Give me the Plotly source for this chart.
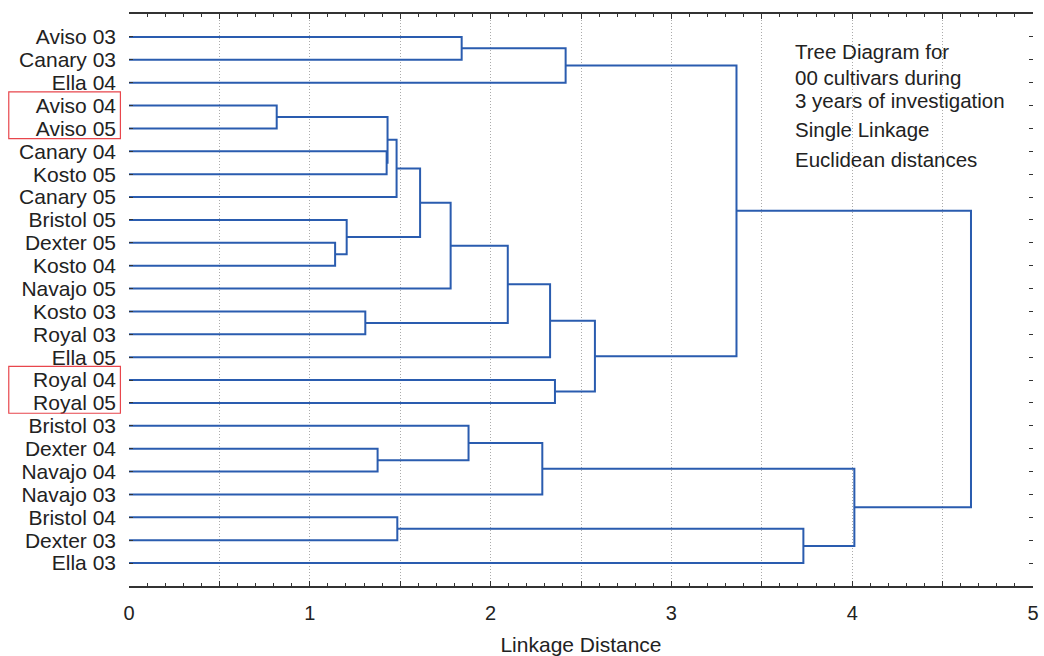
import plotly.graph_objects as go

# ---------------- data ----------------
leaf_labels = [
    "Aviso 03", "Canary 03", "Ella 04", "Aviso 04", "Aviso 05", "Canary 04",
    "Kosto 05", "Canary 05", "Bristol 05", "Dexter 05", "Kosto 04", "Navajo 05",
    "Kosto 03", "Royal 03", "Ella 05", "Royal 04", "Royal 05", "Bristol 03",
    "Dexter 04", "Navajo 04", "Navajo 03", "Bristol 04", "Dexter 03", "Ella 03",
]
# merges: new cluster id = len(leaf_labels) + merge index
merge_left = [3, 9, 8, 12, 18, 5, 24, 30, 21, 31, 33, 0, 17, 34, 36, 37, 15, 35, 39, 41, 32, 38, 43]
merge_right = [4, 10, 25, 13, 19, 6, 29, 7, 22, 26, 11, 1, 28, 27, 20, 14, 16, 2, 40, 42, 23, 44, 45]
merge_height = [0.817, 1.14, 1.204, 1.307, 1.375, 1.425, 1.43, 1.48, 1.484, 1.61, 1.779,
                1.84, 1.878, 2.095, 2.286, 2.329, 2.356, 2.415, 2.577, 3.36, 3.73, 4.012, 4.657]

x_tick_vals = [0, 0.5, 1, 1.5, 2, 2.5, 3, 3.5, 4, 4.5, 5]
x_tick_text = ["0", "", "1", "", "2", "", "3", "", "4", "", "5"]

highlight_groups = [["Aviso 04", "Aviso 05"], ["Royal 04", "Royal 05"]]

note_lines = ["Tree Diagram for", "00 cultivars during", "3 years of investigation",
              "Single Linkage", "Euclidean distances"]
note_y = [0.9337, 0.889, 0.8487, 0.7976, 0.7452]

# ---------------- build dendrogram links ----------------
n = len(leaf_labels)
pos_y = {i: i + 1 for i in range(n)}
pos_x = {i: 0.0 for i in range(n)}
xs, ys = [], []
for k, (a, b, h) in enumerate(zip(merge_left, merge_right, merge_height)):
    xs += [pos_x[a], h, h, pos_x[b], None]
    ys += [pos_y[a], pos_y[a], pos_y[b], pos_y[b], None]
    pos_x[n + k] = h
    pos_y[n + k] = (pos_y[a] + pos_y[b]) / 2

FONT = "Liberation Sans, Arial, Helvetica, sans-serif"
TXT = "#222222"

fig = go.Figure()
fig.add_trace(go.Scatter(
    x=xs, y=ys, mode="lines",
    line=dict(color="#2a5caf", width=2),
    hoverinfo="skip", showlegend=False,
))

shapes = []
for grp in highlight_groups:
    idx = [leaf_labels.index(g) + 1 for g in grp]
    shapes.append(dict(
        type="rect", xref="paper", yref="y",
        x0=-0.133, x1=-0.0095, y0=min(idx) - 0.6, y1=max(idx) + 0.45,
        line=dict(color="#e8464c", width=1.2), fillcolor="rgba(0,0,0,0)",
        layer="above",
    ))

annotations = []
for txt, yy in zip(note_lines, note_y):
    annotations.append(dict(
        text=txt, xref="paper", yref="paper", x=0.735, y=yy,
        xanchor="left", yanchor="middle", showarrow=False,
        font=dict(family=FONT, size=20.5, color=TXT),
    ))

fig.update_layout(
    template="none",
    width=1044, height=656,
    margin=dict(l=129, r=11, t=14, b=70, autoexpand=False),
    paper_bgcolor="white", plot_bgcolor="white",
    font=dict(family=FONT, color=TXT),
    shapes=shapes, annotations=annotations,
    xaxis=dict(
        range=[0, 5], tickvals=x_tick_vals, ticktext=x_tick_text,
        ticks="inside", ticklen=5, tickwidth=1, tickcolor="#333",
        showline=True, linecolor="#333", linewidth=1.5, mirror="ticks",
        showgrid=True, gridcolor="#ababab", griddash="1px,2px", gridwidth=1,
        zeroline=False, automargin=False,
        minor=dict(dtick=0.1, ticks="inside", ticklen=3, tickcolor="#333", showgrid=False),
        tickfont=dict(family=FONT, size=20, color=TXT),
        ticklabelstandoff=8,
        title=dict(text="Linkage Distance", font=dict(family=FONT, size=21, color=TXT), standoff=15),
    ),
    yaxis=dict(
        range=[25, 0], tickvals=list(range(1, n + 1)), ticktext=leaf_labels,
        ticks="inside", ticklen=4, tickwidth=1, tickcolor="#333",
        showline=False, mirror="ticks", showgrid=False, zeroline=False,
        automargin=False,
        tickfont=dict(family=FONT, size=21, color=TXT),
        ticklabelstandoff=12,
    ),
)

fig.write_html(
    "out.html",
    config={"displayModeBar": False},
    post_script="document.body.style.margin='0';document.body.style.overflow='hidden';",
)
